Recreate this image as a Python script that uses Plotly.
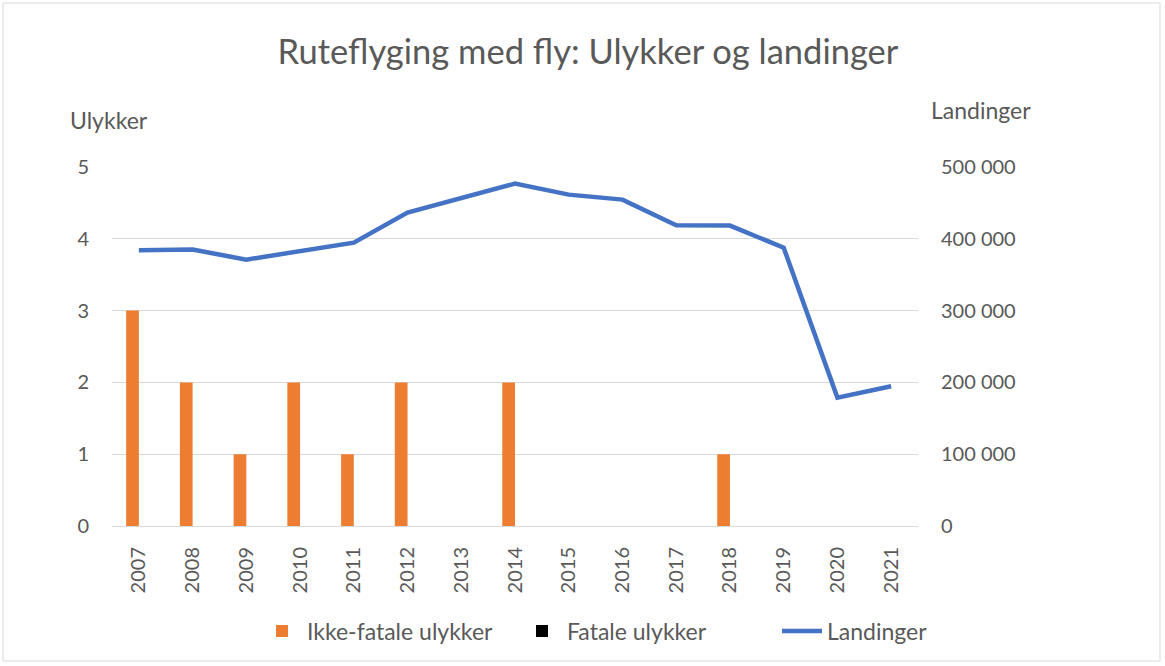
import plotly.graph_objects as go

years = ["2007", "2008", "2009", "2010", "2011", "2012", "2013", "2014",
         "2015", "2016", "2017", "2018", "2019", "2020", "2021"]
ikke_fatale = [3, 2, 1, 2, 1, 2, 0, 2, 0, 0, 0, 1, 0, 0, 0]
fatale = [0, 0, 0, 0, 0, 0, 0, 0, 0, 0, 0, 0, 0, 0, 0]
landinger = [384000, 385000, 371000, 382500, 394700, 436500, 456000, 476900,
             461500, 454600, 418800, 418400, 387700, 178800, 194600]
left_ticks = [0, 1, 2, 3, 4, 5]
right_ticks = [0, 100000, 200000, 300000, 400000, 500000]
right_labels = ["0", "100 000", "200 000", "300 000", "400 000", "500 000"]

FONT = "Lato, Open Sans, sans-serif"
GREY = "#595959"
GRID = "#D9D9D9"

fig = go.Figure()
fig.add_trace(go.Bar(x=years, y=ikke_fatale, name="Ikke-fatale ulykker",
                     marker_color="#ED7D31", marker_line_width=0))
fig.add_trace(go.Bar(x=years, y=fatale, name="Fatale ulykker",
                     marker_color="#000000", marker_line_width=0))
fig.add_trace(go.Scatter(x=years, y=landinger, name="Landinger", yaxis="y2",
                         mode="lines", line=dict(color="#4472C4", width=4.5)))

L, R, T, B = 112, 918, 167, 526
W, H = 1165, 666
pw, ph = R - L, B - T

def px(x):
    return (x - L) / pw

def py(y):
    return (B - y) / ph

fig.update_layout(
    width=W, height=H,
    margin=dict(l=L, r=W - R, t=T, b=H - B, pad=0, autoexpand=False),
    paper_bgcolor="white", plot_bgcolor="white",
    font=dict(family=FONT, color=GREY, size=20),
    barmode="group", bargap=0.527, bargroupgap=0,
    title=dict(text="Ruteflyging med fly: Ulykker og landinger",
               x=588 / W, xanchor="center", y=1 - 52 / H, yanchor="middle",
               font=dict(size=34.5, color=GREY, family=FONT)),
    xaxis=dict(type="category", tickangle=-90, showgrid=False,
               showline=True, linecolor=GRID, linewidth=1,
               ticks="", ticklabelstandoff=12,
               tickfont=dict(size=20, color=GREY)),
    yaxis=dict(range=[0, 5], tickvals=left_ticks, showgrid=True,
               gridcolor=GRID, gridwidth=1, zeroline=False, ticks="",
               ticklabelstandoff=22, tickfont=dict(size=20, color=GREY)),
    yaxis2=dict(range=[0, 500000], tickvals=right_ticks, ticktext=right_labels,
                overlaying="y", side="right", showgrid=False, zeroline=False,
                ticks="", ticklabelstandoff=22,
                tickfont=dict(size=20, color=GREY)),
    legend=dict(orientation="h", x=px(647), xanchor="center",
                y=py(631), yanchor="middle", entrywidth=205,
                itemwidth=40,
                font=dict(size=23, color=GREY), bgcolor="rgba(0,0,0,0)"),
    showlegend=True,
    annotations=[
        dict(text="Ulykker", xref="paper", yref="paper", x=px(68), y=py(120),
             xanchor="left", yanchor="middle", showarrow=False,
             font=dict(size=23, color=GREY)),
        dict(text="Landinger", xref="paper", yref="paper", x=px(929), y=py(110),
             xanchor="left", yanchor="middle", showarrow=False,
             font=dict(size=23, color=GREY)),
    ],
    shapes=[
        dict(type="rect", xref="paper", yref="paper",
             x0=px(3), x1=px(1160), y0=py(661), y1=py(3),
             line=dict(color=GRID, width=1), fillcolor="rgba(0,0,0,0)",
             layer="below"),
    ],
)

fig.write_html("out.html", config={"displayModeBar": False},
               post_script="document.body.style.margin='0';document.body.style.overflow='hidden';")
